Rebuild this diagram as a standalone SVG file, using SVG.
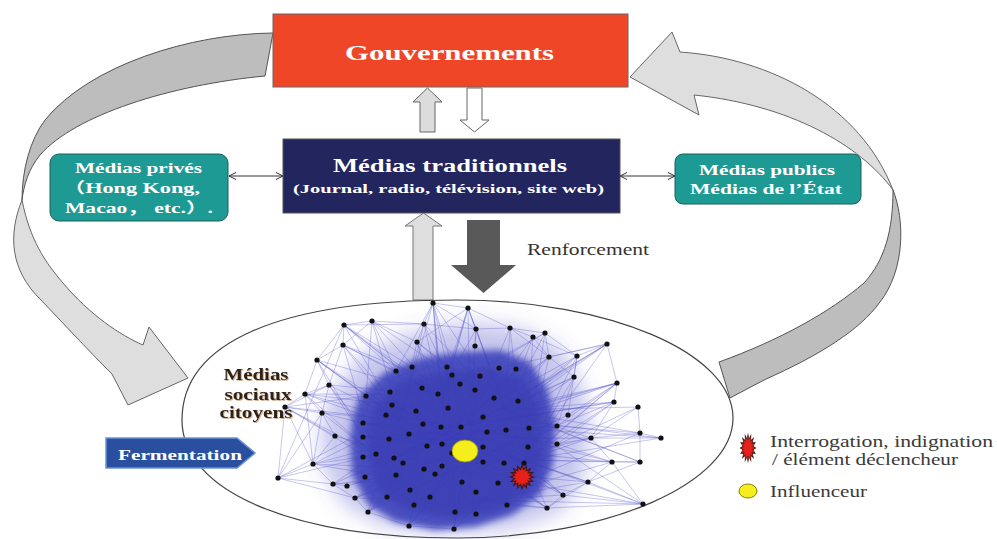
<svg xmlns="http://www.w3.org/2000/svg" width="997" height="539" viewBox="0 0 997 539">
<defs>
<style>
.serif{font-family:"Liberation Serif","DejaVu Serif","Noto Sans CJK SC",serif;}
.wb{fill:#ffffff;font-weight:bold;}
.lg{fill:#3a3a3a;font-size:17px;}
.arrowL{fill:#dedede;stroke:#666;stroke-width:1;}
.arrowD{fill:#bdbdbd;stroke:#555;stroke-width:1;}
.edge{fill:none;stroke:#4b4bc8;stroke-width:0.7;stroke-opacity:0.45;}
.edge2{fill:none;stroke:#3c3cba;stroke-width:0.6;stroke-opacity:0.55;}
.nd{fill:#111;}
.conn{stroke:#333;stroke-width:1;fill:none;marker-start:url(#chev);marker-end:url(#chev);}
</style>
<marker id="chev" viewBox="0 0 9 8" markerWidth="9" markerHeight="8" refX="8" refY="4" orient="auto-start-reverse" markerUnits="userSpaceOnUse">
<path d="M1,0.5 L8,4 L1,7.5" fill="none" stroke="#333" stroke-width="1"/>
</marker>
<polygon id="star" points="10,0 6.38,1.27 9.24,3.83 5.4,3.61 7.07,7.07 3.61,5.4 3.83,9.24 1.27,6.38 0,10 -1.27,6.38 -3.83,9.24 -3.61,5.4 -7.07,7.07 -5.4,3.61 -9.24,3.83 -6.38,1.27 -10,0 -6.38,-1.27 -9.24,-3.83 -5.4,-3.61 -7.07,-7.07 -3.61,-5.4 -3.83,-9.24 -1.27,-6.38 0,-10 1.27,-6.38 3.83,-9.24 3.61,-5.4 7.07,-7.07 5.4,-3.61 9.24,-3.83 6.38,-1.27"/>
<filter id="sh" x="-10%" y="-20%" width="130%" height="150%">
<feDropShadow dx="1" dy="1" stdDeviation="0.6" flood-color="#b08050" flood-opacity="0.6"/>
</filter>
<filter id="blurA" x="-20%" y="-20%" width="140%" height="140%"><feGaussianBlur stdDeviation="3.5"/></filter>
<filter id="blurB" x="-30%" y="-30%" width="160%" height="160%"><feGaussianBlur stdDeviation="10"/></filter>
</defs>
<rect x="0" y="0" width="997" height="539" fill="#ffffff"/>

<g id="connectors">
<path class="arrowD" d="M273,33 C190,34 90,65 45,120 C30,140 22,170 22,200 C24,185 28,170 40,155 C75,115 170,85 265,76 Z"/>
<path class="arrowL" d="M22,200 C8,235 10,270 41,300 C62,322 85,347 112,374 L128,405 L188,378 L149,327 L143,345 C120,335 90,315 63,283 C45,262 30,240 22,200 Z"/>
<path class="arrowL" d="M630,77 L672,32 L680,52 C770,58 860,105 893,190 C860,145 790,105 694,95 L699,115 Z"/>
<path class="arrowD" d="M893,190 C905,220 905,270 880,302 C860,330 820,355 764,380 L730,398 L719,362 C780,340 830,312 864,283 C885,260 893,230 893,190 Z"/>
<polygon points="420,132 420,102 413,102 427.5,88 442,102 435,102 435,132" fill="#dcdcdc" stroke="#666" stroke-width="1"/>
<polygon points="467,88 482,88 482,120 489,120 474.5,132 460,120 467,120" fill="#ffffff" stroke="#666" stroke-width="1"/>
<polygon points="413,300 413,226 405,226 423.5,213 442,226 433,226 433,300" fill="#dedede" stroke="#777" stroke-width="1"/>
<polygon points="467,220 500,220 500,265 516,265 483.5,293 451,265 467,265" fill="#595959"/>
<path class="conn" d="M229,176 L283,176"/>
<path class="conn" d="M620,176 L675,176"/>
</g>

<g id="gouvernements">
<rect x="273" y="14" width="355" height="73" fill="#f04628" stroke="#666" stroke-width="1"/>
<text class="serif wb" x="345" y="60" font-size="22" textLength="209" lengthAdjust="spacingAndGlyphs">Gouvernements</text>
</g>

<g id="medias-traditionnels">
<rect x="283" y="139" width="337" height="74" fill="#23265e" stroke="#555" stroke-width="1"/>
<text class="serif wb" x="333" y="172" font-size="18" textLength="234" lengthAdjust="spacingAndGlyphs">Médias traditionnels</text>
<text class="serif wb" x="293" y="193" font-size="13" textLength="311" lengthAdjust="spacingAndGlyphs">(Journal, radio, télévision, site web)</text>
</g>

<g id="medias-prives">
<rect x="50" y="154" width="178" height="67" rx="9" fill="#1d9a94" stroke="#1c5e5a" stroke-width="1"/>
<text class="serif wb" x="75" y="173" font-size="15" textLength="127" lengthAdjust="spacingAndGlyphs">Médias privés</text>
<text class="serif wb" x="63" y="193" font-size="15" textLength="137" lengthAdjust="spacingAndGlyphs">（Hong Kong,</text>
<text class="serif wb" x="65" y="213" font-size="15" textLength="148" lengthAdjust="spacingAndGlyphs">Macao， etc.）.</text>
</g>

<g id="medias-publics">
<rect x="675" y="154" width="186" height="50" rx="8" fill="#1d9a94" stroke="#1c5e5a" stroke-width="1"/>
<text class="serif wb" x="699" y="175" font-size="15" textLength="136" lengthAdjust="spacingAndGlyphs">Médias publics</text>
<text class="serif wb" x="690" y="194" font-size="15" textLength="152" lengthAdjust="spacingAndGlyphs">Médias de l’État</text>
</g>

<g id="renforcement-label">
<text class="serif" x="527" y="255" font-size="16" fill="#333" textLength="122" lengthAdjust="spacingAndGlyphs">Renforcement</text>
</g>

<g id="medias-sociaux">
<path d="M182,420 C182,342 280,300 457,300 C609,300 733,353 733,418 C733,483 609,538 457,538 C292,538 182,491 182,420 Z" fill="#ffffff" stroke="#444" stroke-width="1.2"/>
<g id="network">
<polygon points="335,390 365,352 410,333 470,322 520,328 560,348 583,388 590,430 583,478 560,512 510,530 440,533 380,525 342,503 322,465 322,420" fill="#5a5acc" fill-opacity="0.35" filter="url(#blurB)"/>
<path class="edge" d="M433,303L440,395 M433,303L400,420 M433,303L470,425 M433,303L468,308 M433,303L424,324 M433,303L476,329 M433,303L396,371 M433,303L447,367 M433,303L505,410 M433,303L450,470
M468,308L440,395 M468,308L505,410 M468,308L470,425 M468,308L476,329 M468,308L510,328 M468,308L417,342 M468,308L430,440 M468,308L525,460
M344,325L372,321 M344,325L343,345 M344,325L317,360 M344,325L400,420 M344,325L396,371 M344,325L412,367 M344,325L424,324 M344,325L440,395 M344,325L470,425
M372,321L424,324 M372,321L440,395 M372,321L400,420 M372,321L417,342 M372,321L343,345 M372,321L430,440 M372,321L366,396
M424,324L417,342 M424,324L440,395 M424,324L470,425 M424,324L476,329 M424,324L400,420 M424,324L505,410
M343,345L317,360 M343,345L400,420 M343,345L329,385 M343,345L396,371 M343,345L375,455 M343,345L440,395 M343,345L430,440
M417,342L440,395 M417,342L400,420 M417,342L505,410 M417,342L447,367 M417,342L450,470
M317,360L329,385 M317,360L305,394 M317,360L400,420 M317,360L375,455 M317,360L366,396 M317,360L440,395 M317,360L430,440
M329,385L305,394 M329,385L375,455 M329,385L400,420 M329,385L285,407 M329,385L322,413 M329,385L440,395 M329,385L405,480
M305,394L285,407 M305,394L322,413 M305,394L375,455 M305,394L400,420 M305,394L313,464 M305,394L440,395 M305,394L430,440
M285,407L322,413 M285,407L278,478 M285,407L375,455 M285,407L313,464 M285,407L335,436 M285,407L400,420 M285,407L405,480 M285,407L366,396
M322,413L375,455 M322,413L400,420 M322,413L335,436 M322,413L313,464 M322,413L430,440
M313,464L278,478 M313,464L333,484 M313,464L375,455 M313,464L405,480 M313,464L335,436 M313,464L400,420 M313,464L450,470
M278,478L333,484 M278,478L375,455 M278,478L355,498 M278,478L344,325 M278,478L322,413
M333,484L347,486 M333,484L405,480 M333,484L375,455 M333,484L355,498 M333,484L450,470
M355,498L368,512 M355,498L405,480 M355,498L480,500 M355,498L430,440
M368,512L409,526 M368,512L405,480 M368,512L450,470 M368,512L400,420
M409,526L454,529 M409,526L480,500 M409,526L450,470 M409,526L430,440
M454,529L477,514 M454,529L480,500 M454,529L525,460 M454,529L470,425
M476,329L510,328 M476,329L470,425 M476,329L505,410 M476,329L475,346 M476,329L440,395
M510,328L533,337 M510,328L545,333 M510,328L505,410 M510,328L470,425 M510,328L549,357 M510,328L525,460
M533,337L505,410 M533,337L549,357 M533,337L577,356 M533,337L525,460 M533,337L470,425
M545,333L505,410 M545,333L549,357 M545,333L577,356 M545,333L525,460 M545,333L440,395
M607,344L577,356 M607,344L617,383 M607,344L505,410 M607,344L549,357 M607,344L499,368 M607,344L525,460 M607,344L470,425
M549,357L505,410 M549,357L525,460 M549,357L574,377 M549,357L470,425
M577,356L505,410 M577,356L568,415 M577,356L525,460 M577,356L574,377 M577,356L450,470
M574,377L505,410 M574,377L525,460 M574,377L557,426 M574,377L430,440
M617,383L614,402 M617,383L505,410 M617,383L525,460 M617,383L568,415 M617,383L557,426 M617,383L470,425 M617,383L480,500
M614,402L505,410 M614,402L525,460 M614,402L591,438 M614,402L557,444 M614,402L450,470 M614,402L470,425
M638,407L640,433 M638,407L591,438 M638,407L525,460 M638,407L505,410
M640,433L661,438 M640,433L640,462 M640,433L591,438 M640,433L557,426 M640,433L505,410 M640,433L480,500
M661,438L591,438 M661,438L525,460 M661,438L470,425
M591,438L525,460 M591,438L505,410 M591,438L557,444 M591,438L612,462 M591,438L450,470
M612,462L640,462 M612,462L525,460 M612,462L557,444 M612,462L588,482 M612,462L480,500 M612,462L470,425
M640,462L588,482 M640,462L525,460 M640,462L505,410
M588,482L525,460 M588,482L480,500 M588,482L563,495 M588,482L547,508 M588,482L450,470
M563,495L480,500 M563,495L525,460 M563,495L547,508 M563,495L470,425
M643,504L588,482 M643,504L525,460 M643,504L480,500 M643,504L547,508 M643,504L563,495 M643,504L612,462 M643,504L450,470
M547,508L480,500 M547,508L525,460 M547,508L507,505 M547,508L430,440
M476,514L480,500 M455,512L480,500 M476,514L430,440 M455,512L505,410
M317,360L547,508 M344,325L563,495 M433,303L454,529 M617,383L313,464 M607,344L368,512 M278,478L545,333 M643,504L372,321 M661,438L305,394 M468,308L409,526 M640,462L343,345"/>
<polygon points="360,395 385,372 420,358 460,352 500,350 530,362 548,390 556,425 553,465 540,495 512,515 475,527 435,530 395,522 368,505 352,475 350,440 353,415" fill="#3940b8" fill-opacity="0.88" filter="url(#blurA)"/>
<polygon points="375,405 400,382 440,372 490,368 525,380 540,410 543,460 528,492 495,512 450,518 405,510 378,490 368,455 368,425" fill="#3a3fb2" fill-opacity="0.75" filter="url(#blurA)"/>
<path class="edge2" d="M363,423L441,427 M386,415L461,427 M392,405L483,462 M416,411L504,463 M363,437L529,428 M389,439L557,426 M409,434L524,463 M335,436L498,483 M363,457L483,417 M376,454L506,430 M394,458L518,401 M403,463L494,398 M424,469L475,390 M442,466L480,376 M365,477L452,375 M396,475L460,384 M410,490L499,368 M430,497L516,369 M387,497L438,394 M414,505L422,388 M462,482L390,392 M476,492L366,396 M498,483L396,371 M507,505L412,367 M528,447L363,423 M557,444L386,415 M524,463L392,405 M504,463L363,457 M483,447L347,486 M568,415L410,490 M557,426L430,497 M529,428L414,505 M518,401L387,497 M494,398L365,477 M483,417L333,484 M506,430L355,498 M475,390L368,512 M487,432L409,526 M480,376L454,529 M452,375L476,514 M447,367L455,512 M499,368L435,474 M516,369L424,469 M574,377L442,466 M549,357L403,463 M577,356L394,458 M607,344L442,444 M617,383L427,446 M614,402L409,434 M591,438L389,439 M612,462L363,437 M588,482L386,415 M563,495L392,405 M547,508L416,411"/>
<g class="nd">
<circle cx="433" cy="303" r="2.6"/><circle cx="468" cy="308" r="2.6"/><circle cx="344" cy="325" r="2.6"/><circle cx="372" cy="321" r="2.6"/><circle cx="424" cy="324" r="2.6"/><circle cx="476" cy="329" r="2.6"/><circle cx="343" cy="345" r="2.6"/><circle cx="417" cy="342" r="2.6"/><circle cx="475" cy="346" r="2.6"/><circle cx="317" cy="360" r="2.6"/><circle cx="396" cy="371" r="2.6"/><circle cx="412" cy="367" r="2.6"/><circle cx="447" cy="367" r="2.6"/><circle cx="329" cy="385" r="2.6"/><circle cx="305" cy="394" r="2.6"/><circle cx="366" cy="396" r="2.6"/><circle cx="390" cy="392" r="2.6"/><circle cx="422" cy="388" r="2.6"/><circle cx="438" cy="394" r="2.6"/><circle cx="460" cy="384" r="2.6"/><circle cx="452" cy="375" r="2.6"/><circle cx="285" cy="407" r="2.6"/><circle cx="322" cy="413" r="2.6"/><circle cx="392" cy="405" r="2.6"/><circle cx="416" cy="411" r="2.6"/><circle cx="448" cy="408" r="2.6"/><circle cx="386" cy="415" r="2.6"/><circle cx="363" cy="423" r="2.6"/><circle cx="423" cy="424" r="2.6"/><circle cx="441" cy="427" r="2.6"/><circle cx="461" cy="427" r="2.6"/><circle cx="335" cy="436" r="2.6"/><circle cx="363" cy="437" r="2.6"/><circle cx="389" cy="439" r="2.6"/><circle cx="409" cy="434" r="2.6"/><circle cx="427" cy="446" r="2.6"/><circle cx="442" cy="444" r="2.6"/><circle cx="452" cy="453" r="2.6"/><circle cx="313" cy="464" r="2.6"/><circle cx="363" cy="457" r="2.6"/><circle cx="376" cy="454" r="2.6"/><circle cx="394" cy="458" r="2.6"/><circle cx="403" cy="463" r="2.6"/><circle cx="424" cy="469" r="2.6"/><circle cx="442" cy="466" r="2.6"/><circle cx="435" cy="474" r="2.6"/><circle cx="278" cy="478" r="2.6"/><circle cx="365" cy="477" r="2.6"/><circle cx="396" cy="475" r="2.6"/><circle cx="333" cy="484" r="2.6"/><circle cx="347" cy="486" r="2.6"/><circle cx="462" cy="482" r="2.6"/><circle cx="410" cy="490" r="2.6"/><circle cx="430" cy="497" r="2.6"/><circle cx="355" cy="498" r="2.6"/><circle cx="387" cy="497" r="2.6"/><circle cx="414" cy="505" r="2.6"/><circle cx="368" cy="512" r="2.6"/><circle cx="455" cy="512" r="2.6"/><circle cx="409" cy="526" r="2.6"/><circle cx="454" cy="529" r="2.6"/>
<circle cx="510" cy="328" r="2.6"/><circle cx="533" cy="337" r="2.6"/><circle cx="545" cy="333" r="2.6"/><circle cx="607" cy="344" r="2.6"/><circle cx="549" cy="357" r="2.6"/><circle cx="577" cy="356" r="2.6"/><circle cx="499" cy="368" r="2.6"/><circle cx="516" cy="369" r="2.6"/><circle cx="480" cy="376" r="2.6"/><circle cx="574" cy="377" r="2.6"/><circle cx="617" cy="383" r="2.6"/><circle cx="475" cy="390" r="2.6"/><circle cx="494" cy="398" r="2.6"/><circle cx="518" cy="401" r="2.6"/><circle cx="614" cy="402" r="2.6"/><circle cx="638" cy="407" r="2.6"/><circle cx="483" cy="417" r="2.6"/><circle cx="568" cy="415" r="2.6"/><circle cx="487" cy="432" r="2.6"/><circle cx="506" cy="430" r="2.6"/><circle cx="529" cy="428" r="2.6"/><circle cx="557" cy="426" r="2.6"/><circle cx="640" cy="433" r="2.6"/><circle cx="591" cy="438" r="2.6"/><circle cx="661" cy="438" r="2.6"/><circle cx="483" cy="447" r="2.6"/><circle cx="528" cy="447" r="2.6"/><circle cx="557" cy="444" r="2.6"/><circle cx="483" cy="462" r="2.6"/><circle cx="504" cy="463" r="2.6"/><circle cx="524" cy="463" r="2.6"/><circle cx="612" cy="462" r="2.6"/><circle cx="640" cy="462" r="2.6"/><circle cx="498" cy="483" r="2.6"/><circle cx="588" cy="482" r="2.6"/><circle cx="476" cy="492" r="2.6"/><circle cx="563" cy="495" r="2.6"/><circle cx="507" cy="505" r="2.6"/><circle cx="547" cy="508" r="2.6"/><circle cx="476" cy="514" r="2.6"/><circle cx="643" cy="504" r="2.6"/>
</g>
<ellipse cx="465" cy="451" rx="13" ry="11" fill="#f4ee1c" stroke="#9a9000" stroke-width="0.8"/>
<use href="#star" transform="translate(522,477) scale(1.15)" fill="#e8201c" stroke="#4a1510" stroke-width="1"/>
</g>
<g filter="url(#sh)">
<text class="serif" x="256" y="380" font-size="16" font-weight="bold" fill="#2e2015" text-anchor="middle" textLength="65" lengthAdjust="spacingAndGlyphs">Médias</text>
<text class="serif" x="258" y="400" font-size="16" font-weight="bold" fill="#2e2015" text-anchor="middle" textLength="67" lengthAdjust="spacingAndGlyphs">sociaux</text>
<text class="serif" x="256" y="418" font-size="16" font-weight="bold" fill="#2e2015" text-anchor="middle" textLength="73" lengthAdjust="spacingAndGlyphs">citoyens</text>
</g>
</g>

<g id="fermentation">
<polygon points="106,438 237,438 255,453 237,468 106,468" fill="#2a4f9f" stroke="#6a94d6" stroke-width="1.5"/>
<text class="serif wb" x="118" y="460" font-size="15" textLength="124" lengthAdjust="spacingAndGlyphs">Fermentation</text>
</g>

<g id="legend">
<use href="#star" transform="translate(748,448) scale(0.75,1.35)" fill="#e8201c" stroke="#4a1510" stroke-width="0.9"/>
<text class="serif lg" x="770" y="447" textLength="223" lengthAdjust="spacingAndGlyphs">Interrogation, indignation</text>
<text class="serif lg" x="772" y="465" textLength="186" lengthAdjust="spacingAndGlyphs">/ élément déclencheur</text>
<ellipse cx="748" cy="491" rx="9" ry="7" fill="#f4ee1c" stroke="#8a8000" stroke-width="1"/>
<text class="serif lg" x="770" y="497" textLength="97" lengthAdjust="spacingAndGlyphs">Influenceur</text>
</g>
</svg>
